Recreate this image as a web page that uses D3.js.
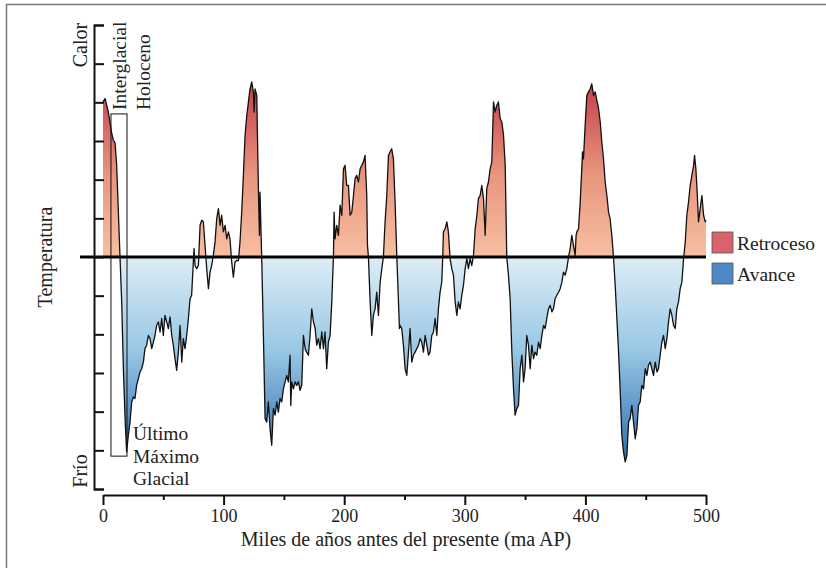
<!DOCTYPE html>
<html>
<head>
<meta charset="utf-8">
<script src="https://cdn.jsdelivr.net/npm/d3@7"></script>
<style>
  body { margin: 0; background: #fff; }
  svg text { font-family: "Liberation Serif", "DejaVu Serif", serif; fill: #222; }
</style>
</head>
<body>
<div id="chart"></div>
<script>
// Temperature record, [thousands of years BP, anomaly in tick units]
const tempRecord = [
  [0,4.01],[1.7,4.1],[4.4,3.75],[7.2,3.2],[8.6,3.02],[10.0,2.95],[11.3,2.4],[12.7,1.2],[14.1,0],[15.5,-1.16],[16.9,-2.89],[18.3,-4.18],[19.6,-5.04],
  [21.0,-4.61],[22.4,-4.27],[23.8,-3.75],[25.2,-3.62],[26.5,-3.66],[27.9,-3.32],[29.3,-3.15],[30.7,-2.97],[32.1,-2.89],[33.5,-2.72],[34.8,-2.37],
  [36.2,-2.28],[37.6,-2.03],[39.0,-2.11],[40.4,-2.37],[41.8,-2.20],[43.1,-2.03],[44.5,-1.77],[45.9,-1.68],[47.3,-1.94],[48.7,-1.59],[50.0,-2.03],
  [51.4,-1.51],[52.8,-1.68],[54.2,-1.85],[55.6,-1.55],[57.0,-2.03],[58.3,-2.28],[59.7,-2.63],[61.1,-2.93],[62.5,-2.46],[63.9,-1.77],[65.3,-2.72],
  [66.6,-2.11],[68.0,-2.37],[69.4,-2.03],[70.8,-1.59],[72.2,-1.08],[73.5,-0.99],[74.9,-0.13],[75.5,0.22],[76.3,-0.22],[77.7,-0.30],[79.1,-0.22],
  [80.5,0.82],[81.8,0.95],[83.2,0.91],[84.6,0.30],[86.0,-0.30],[87.4,-0.82],[88.8,-0.39],[90.1,-0.22],[91.5,0.04],[92.9,0.39],[94.3,0.99],
  [95.7,1.25],[97.1,0.82],[98.4,1.08],[99.8,0.65],[101.2,0.82],[102.6,0.47],[104.0,0.65],[105.3,0.47],[106.7,-0.13],[108.1,-0.52],[109.5,-0.13],
  [110.9,-0.09],[112.3,-0.09],[113.6,0.39],[115.0,1.16],[116.4,2.11],[117.8,3.15],[119.2,3.66],[120.6,4.01],[121.9,4.35],
  [123.3,4.53],[124.7,4.27],[125.3,3.75],[126.1,4.35],[127.5,4.18],[128.8,1.85],[129.7,0.56],[130.2,1.68],[131.1,0.56],[131.6,0],[133.0,-2.03],
  [134.4,-4.18],[135.8,-4.27],[137.1,-3.75],[138.5,-4.44],[139.9,-4.87],[141.3,-3.92],[142.7,-4.09],[144.1,-3.75],[145.4,-4.01],[146.8,-3.66],
  [148.2,-3.75],[149.6,-3.41],[151.0,-3.23],[152.4,-3.06],[153.7,-3.23],[155.1,-2.54],[155.7,-3.84],[156.5,-3.23],[157.9,-3.41],[159.3,-3.23],
  [160.6,-3.32],[162.0,-3.23],[163.4,-3.45],[164.8,-3.32],[166.2,-2.03],[167.6,-2.37],[168.9,-2.46],[170.3,-2.54],[171.7,-2.03],[173.1,-1.34],
  [174.5,-1.68],[175.9,-1.85],[177.2,-2.28],[178.6,-2.11],[180.0,-2.37],[181.4,-1.94],[182.8,-2.37],[184.1,-1.94],[185.5,-2.89],[186.9,-2.20],
  [188.3,-2.03],[189.7,-1.16],[191.1,0.04],[191.6,1.16],[192.4,0.47],[193.8,0.82],[195.2,0.56],[196.6,1.34],[198.0,1.08],[199.4,2.28],[200.7,2.37],
  [202.1,1.85],[203.5,1.85],[204.9,1.08],[206.3,1.16],[207.7,1.59],[209.0,2.03],[210.4,2.11],[211.8,1.94],[213.2,2.28],[214.6,2.37],[215.9,2.46],
  [217.3,2.63],[218.7,1.59],[219.3,0.30],[220.1,0],[221.5,-1.16],[222.9,-2.03],[224.2,-1.51],[225.6,-1.34],[227.0,-0.91],[228.4,-1.51],[229.8,-0.65],
  [231.2,-0.30],[232.5,0],[233.9,0.91],[235.3,1.59],[236.7,2.63],[238.1,2.72],[239.4,2.80],[240.8,2.54],[242.2,1.42],[243.6,0.04],[245.0,-1.16],
  [245.8,-1.85],[246.4,-1.77],[247.7,-1.85],[249.1,-2.28],[250.5,-2.89],[251.9,-3.06],[253.3,-2.46],[254.6,-1.85],[256.0,-2.72],[257.4,-2.54],
  [258.8,-2.46],[260.2,-2.37],[261.6,-2.28],[262.9,-2.11],[264.3,-2.20],[265.7,-2.46],[267.1,-2.03],[268.5,-2.28],[269.9,-2.54],[271.2,-2.46],
  [272.6,-2.03],[274.0,-1.94],[275.4,-1.59],[276.8,-2.03],[278.1,-1.34],[279.5,-0.91],[280.9,-0.65],[281.7,0],[282.3,0.65],[283.7,0.73],[285.1,0.91],
  [286.4,0.65],[287.8,-0.04],[289.2,-0.30],[290.6,-0.47],[292.0,-1.16],[293.4,-1.51],[294.7,-1.16],[296.1,-1.34],[297.5,-0.99],[298.9,-0.73],
  [300.3,-0.30],[301.7,-0.04],[303.0,-0.30],[304.4,-0.04],[305.8,-0.22],[307.2,0.04],[308.6,0.73],[310.0,1.08],[311.3,1.51],[312.7,1.59],[314.1,1.85],
  [315.5,1.51],[316.9,0.56],[318.2,1.77],[319.6,1.94],[321.0,2.28],[322.4,2.46],[323.8,4.01],[325.2,3.75],[326.5,3.92],[327.9,4.01],[329.3,3.58],
  [330.7,3.49],[332.1,3.15],[333.5,2.37],[334.8,0],[336.2,-0.47],[337.6,-1.08],[339.0,-2.46],[340.4,-3.41],[341.7,-4.09],[343.1,-3.92],[344.5,-3.84],
  [345.9,-2.89],[347.3,-2.54],[348.7,-3.23],[350.0,-2.89],[351.4,-2.03],[352.8,-2.28],[354.2,-2.89],[355.6,-2.28],[357.0,-2.63],[358.3,-2.46],
  [359.7,-2.54],[361.1,-2.20],[362.5,-2.37],[363.9,-2.03],[365.3,-1.77],[366.6,-1.85],[368.0,-1.59],[369.4,-1.34],[370.8,-1.25],[372.2,-1.42],
  [373.5,-1.34],[374.9,-1.08],[376.3,-0.99],[377.7,-0.91],[379.1,-0.82],[380.5,-0.65],[381.8,-0.39],[383.2,-0.47],[384.6,-0.30],[386.0,0],[387.4,0.22],
  [388.7,0.56],[390.1,0.30],[391.5,0.04],[392.3,0.56],[392.9,0.65],[394.3,0.73],[395.7,1.42],[397.0,2.28],[397.6,2.72],[398.4,2.54],[399.8,3.41],
  [401.2,4.18],[402.6,4.27],[404.0,4.35],[405.3,4.48],[406.7,4.18],[408.1,4.27],[409.5,4.05],[410.9,3.84],[412.3,3.49],[413.6,2.97],[415.0,2.54],
  [416.4,1.94],[417.8,1.59],[419.2,1.16],[420.5,0.99],[421.9,0.56],[423.3,0],[424.7,-0.73],[426.1,-1.59],[427.5,-2.46],[428.8,-3.41],[430.2,-4.61],
  [431.6,-5.04],[433.0,-5.30],[434.4,-5.13],[435.8,-4.27],[437.1,-4.18],[438.5,-3.84],[439.9,-4.27],[441.3,-4.70],[442.7,-4.44],[444.0,-3.84],
  [445.4,-3.75],[446.8,-3.32],[448.2,-3.41],[449.6,-2.89],[451.0,-3.06],[452.3,-2.80],[453.7,-2.72],[455.1,-2.89],[456.5,-3.06],[457.9,-2.72],
  [459.3,-2.97],[460.6,-2.89],[462.0,-2.54],[463.4,-2.20],[464.8,-2.03],[466.2,-2.37],[467.6,-2.11],[468.9,-1.68],[470.3,-1.34],[471.7,-1.51],
  [473.1,-1.77],[474.5,-1.85],[475.8,-1.34],[477.2,-1.16],[478.6,-0.82],[480.0,-0.65],[481.4,-0.04],[482.8,0.39],[484.1,1.08],[485.5,1.42],
  [486.9,1.85],[488.3,2.11],[489.7,2.37],[490.5,2.63],[491.6,2.28],[492.4,1.85],[493.8,0.91],[495.2,1.25],[496.6,1.59],[498.0,1.08],[499.4,0.91],[500,0.95]
];

const xTicks = [0, 50, 100, 150, 200, 250, 300, 350, 400, 450, 500];
const yTicks = [-6, -5, -4, -3, -2, -1, 0, 1, 2, 3, 4, 5, 6];
const legendLabels = ["Retroceso", "Avance"];
const legendColors = ["#d8636a", "#4e89c6"];
const glacialLines = ["Último", "Máximo", "Glacial"];
// box around the Holocene / Last Glacial Maximum: [ka start, ka end, top, bottom]
const holoceneBox = [6.6, 19.9, 3.7, -5.15];

const width = 826, height = 568;

const svg = d3.select("#chart").append("svg")
    .attr("width", width)
    .attr("height", height);

// outer frame
svg.append("path")
    .attr("d", "M6.5,568 V4.5 H826")
    .attr("fill", "none")
    .attr("stroke", "#777")
    .attr("stroke-width", 1.5);

const x = d3.scaleLinear().domain([0, 500]).range([103, 706]);
const y = d3.scaleLinear().domain([-6, 6]).range([489, 25]);

// gradients
const defs = svg.append("defs");
const warm = defs.append("linearGradient")
    .attr("id", "warm")
    .attr("gradientUnits", "userSpaceOnUse")
    .attr("x1", 0).attr("x2", 0)
    .attr("y1", y(0)).attr("y2", y(4.6));
warm.append("stop").attr("offset", 0).attr("stop-color", "#f7bfa1");
warm.append("stop").attr("offset", 0.45).attr("stop-color", "#e9977f");
warm.append("stop").attr("offset", 1).attr("stop-color", "#c63c4a");

const cold = defs.append("linearGradient")
    .attr("id", "cold")
    .attr("gradientUnits", "userSpaceOnUse")
    .attr("x1", 0).attr("x2", 0)
    .attr("y1", y(0)).attr("y2", y(-5.4));
cold.append("stop").attr("offset", 0).attr("stop-color", "#deedf7");
cold.append("stop").attr("offset", 0.45).attr("stop-color", "#97c7e4");
cold.append("stop").attr("offset", 1).attr("stop-color", "#2b67ab");

defs.append("clipPath").attr("id", "clipTop")
    .append("rect")
    .attr("x", 0).attr("y", 0)
    .attr("width", width).attr("height", y(0));
defs.append("clipPath").attr("id", "clipBottom")
    .append("rect")
    .attr("x", 0).attr("y", y(0))
    .attr("width", width).attr("height", height - y(0));

const area = d3.area()
    .x(d => x(d[0]))
    .y0(y(0))
    .y1(d => y(d[1]));

const line = d3.line()
    .x(d => x(d[0]))
    .y(d => y(d[1]));

svg.append("path")
    .datum(tempRecord)
    .attr("d", area)
    .attr("fill", "url(#warm)")
    .attr("clip-path", "url(#clipTop)");

svg.append("path")
    .datum(tempRecord)
    .attr("d", area)
    .attr("fill", "url(#cold)")
    .attr("clip-path", "url(#clipBottom)");

// zero line
svg.append("line")
    .attr("x1", 80).attr("x2", x(500))
    .attr("y1", y(0)).attr("y2", y(0))
    .attr("stroke", "#000")
    .attr("stroke-width", 3);

svg.append("path")
    .datum(tempRecord)
    .attr("d", line)
    .attr("fill", "none")
    .attr("stroke", "#111")
    .attr("stroke-width", 1.3)
    .attr("stroke-linejoin", "round");

// Holocene / LGM box
svg.append("rect")
    .attr("x", x(holoceneBox[0]))
    .attr("y", y(holoceneBox[2]))
    .attr("width", x(holoceneBox[1]) - x(holoceneBox[0]))
    .attr("height", y(holoceneBox[3]) - y(holoceneBox[2]))
    .attr("fill", "none")
    .attr("stroke", "#111")
    .attr("stroke-width", 1);

// y axis (bracket with inward ticks)
const yAxis = svg.append("g")
    .attr("transform", "translate(94,0)")
    .call(d3.axisRight(y).tickValues(yTicks).tickSize(10).tickSizeOuter(10).tickFormat(""));
yAxis.selectAll("path, line").attr("stroke", "#111").attr("stroke-width", 2);

// x axis
const xAxis = svg.append("g")
    .attr("transform", "translate(0,495)")
    .call(d3.axisBottom(x).tickValues(xTicks).tickSizeOuter(0)
        .tickFormat(d => d % 100 === 0 ? d : ""));
xAxis.select(".domain").attr("stroke", "#111").attr("stroke-width", 2);
xAxis.selectAll(".tick line")
    .attr("stroke", "#111")
    .attr("stroke-width", 2)
    .attr("y2", d => d % 100 === 0 ? 10 : 5);
xAxis.selectAll(".tick text")
    .attr("y", 14)
    .style("font-family", "Liberation Serif")
    .style("font-size", "18px")
    .attr("fill", "#222");

// axis titles
svg.append("text")
    .attr("x", 406).attr("y", 546)
    .attr("text-anchor", "middle")
    .style("font-size", "20px")
    .text("Miles de años antes del presente (ma AP)");

svg.append("text")
    .attr("transform", "translate(45,257) rotate(-90)")
    .attr("text-anchor", "middle")
    .attr("dy", "0.35em")
    .style("font-size", "20px")
    .text("Temperatura");

svg.append("text")
    .attr("transform", "translate(80,45) rotate(-90)")
    .attr("text-anchor", "middle")
    .attr("dy", "0.35em")
    .style("font-size", "20px")
    .text("Calor");

svg.append("text")
    .attr("transform", "translate(80,471) rotate(-90)")
    .attr("text-anchor", "middle")
    .attr("dy", "0.35em")
    .style("font-size", "20px")
    .text("Frío");

// annotations
svg.append("text")
    .attr("transform", "translate(119,110) rotate(-90)")
    .attr("dy", "0.35em")
    .style("font-size", "19.5px")
    .text("Interglacial");

svg.append("text")
    .attr("transform", "translate(143,110) rotate(-90)")
    .attr("dy", "0.35em")
    .style("font-size", "19.5px")
    .text("Holoceno");

svg.selectAll(".glacial")
    .data(glacialLines)
    .enter()
    .append("text")
    .attr("class", "glacial")
    .attr("x", 133)
    .attr("y", (d, i) => 440 + i * 22.5)
    .style("font-size", "19.5px")
    .text(d => d);

// legend
const legend = svg.selectAll(".legend")
    .data(legendLabels)
    .enter()
    .append("g")
    .attr("class", "legend")
    .attr("transform", (d, i) => `translate(712,${232 + i * 31})`);

legend.append("rect")
    .attr("width", 21)
    .attr("height", 21)
    .attr("fill", (d, i) => legendColors[i])
    .attr("stroke", "#555")
    .attr("stroke-width", 0.8);

legend.append("text")
    .attr("x", 25)
    .attr("y", 11)
    .attr("dy", "0.35em")
    .style("font-size", "19.5px")
    .text(d => d);
</script>
</body>
</html>
